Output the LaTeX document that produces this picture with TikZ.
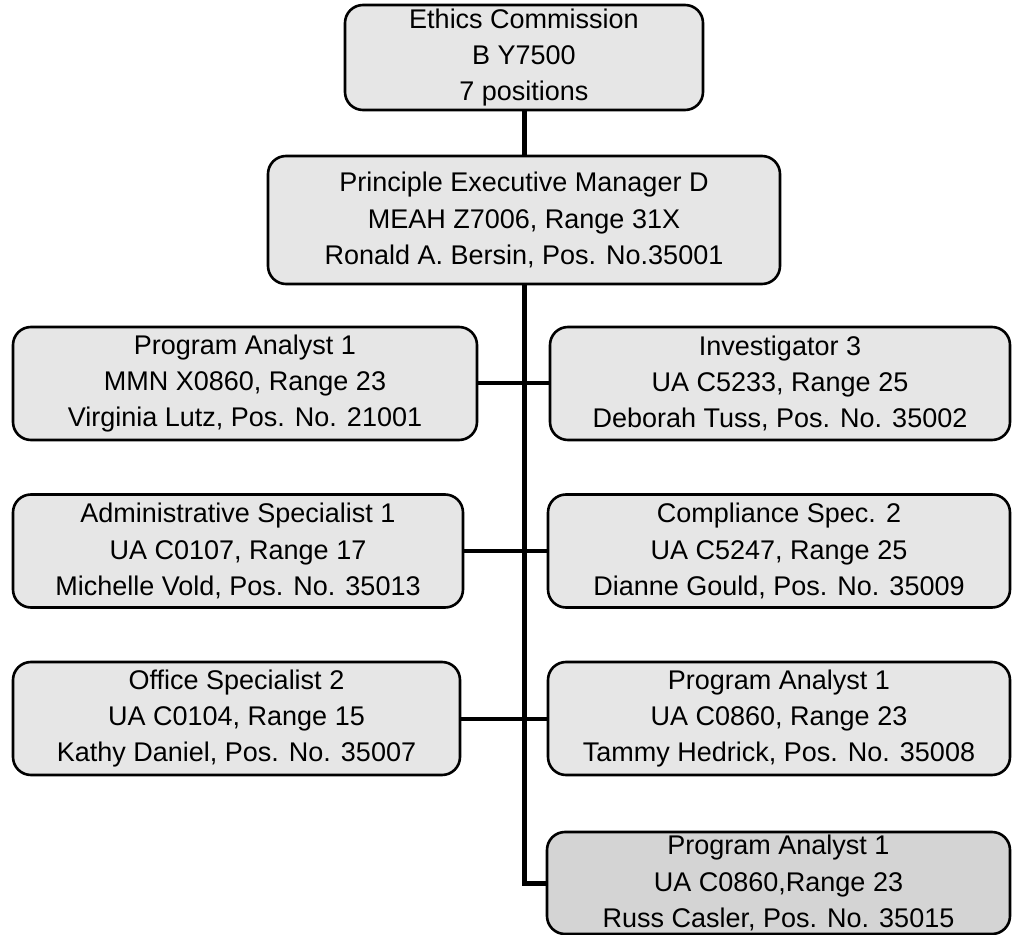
\documentclass[tikz,border=0pt]{standalone}
\usepackage{fontspec}
\setmainfont{Liberation Sans}
\usetikzlibrary{positioning}
\definecolor{boxgray}{HTML}{E6E6E6}
\definecolor{boxdark}{HTML}{D4D4D4}

\begin{document}
\begin{tikzpicture}[x=0.5pt, y=-0.5pt,
    orgbox/.style={draw, line width=1.3pt, rounded corners=9pt, fill=boxgray,
      align=center, inner sep=0pt, minimum height=56.5pt,
      font=\fontsize{13.5}{18.2}\selectfont},
    trunk/.style={line width=2.5pt},
    branch/.style={line width=2pt}]
    \useasboundingbox (0,0) rectangle (1012,935);

    % top of the chart
    \node[orgbox, minimum width=179pt, minimum height=52.5pt] (ethics) at (524,57.5)
      {Ethics Commission\\B Y7500\\7 positions};
    \node[orgbox, minimum width=256pt, minimum height=64pt] (pem) at (524,220)
      {Principle Executive Manager D\\MEAH Z7006, Range 31X\\Ronald A. Bersin, Pos. No.35001};

    % left column
    \node[orgbox, minimum width=232pt] (pa1) at (245,383.5)
      {Program Analyst 1\\MMN X0860, Range 23\\Virginia Lutz, Pos. No. 21001};
    \node[orgbox, minimum width=225pt] (admin) at (238,551)
      {Administrative Specialist 1\\UA C0107, Range 17\\Michelle Vold, Pos. No. 35013};
    \node[orgbox, minimum width=223.5pt] (office) at (236.5,718.5)
      {Office Specialist 2\\UA C0104, Range 15\\Kathy Daniel, Pos. No. 35007};

    % right column
    \node[orgbox, minimum width=230pt] (inv) at (780,383.5)
      {Investigator 3\\UA C5233, Range 25\\Deborah Tuss, Pos. No. 35002};
    \node[orgbox, minimum width=231pt] (comp) at (779,551)
      {Compliance Spec. 2\\UA C5247, Range 25\\Dianne Gould, Pos. No. 35009};
    \node[orgbox, minimum width=231pt] (pa2) at (779,718.5)
      {Program Analyst 1\\UA C0860, Range 23\\Tammy Hedrick, Pos. No. 35008};
    \node[orgbox, fill=boxdark, minimum width=231.5pt, minimum height=51pt] (pa3) at (778.5,883)
      {Program Analyst 1\\UA C0860,Range 23\\Russ Casler, Pos. No. 35015};

    % reporting lines
    \draw[trunk] (ethics.south) -- (ethics.south |- pem.north);
    \draw[trunk] (pem.south) |- (pa3.west);
    \draw[branch] (pa1.east) -- (inv.west);
    \draw[branch] (admin.east) -- (comp.west);
    \draw[branch] (office.east) -- (pa2.west);
\end{tikzpicture}
\end{document}
